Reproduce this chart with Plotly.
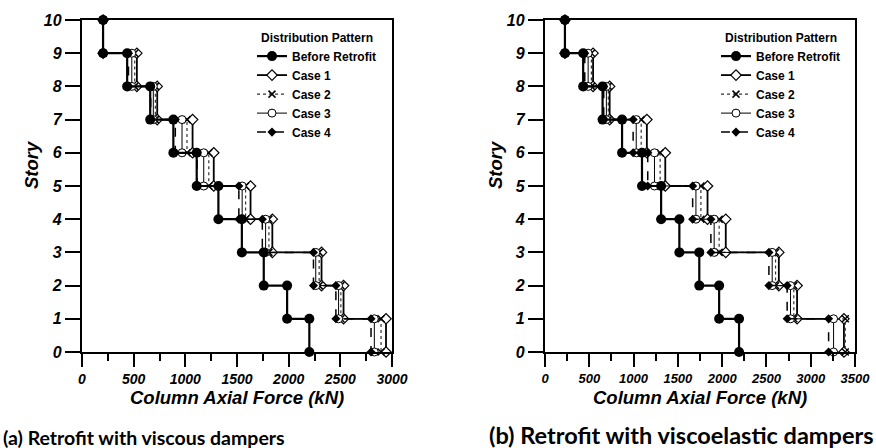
import plotly.graph_objects as go

# ---------------- data ----------------
# upper story of each column segment (segment 10-9, 9-8, ..., 1-0)
stories_top = [10, 9, 8, 7, 6, 5, 4, 3, 2, 1]
series_names = ["Before Retrofit", "Case 1", "Case 2", "Case 3", "Case 4"]

# (a) viscous dampers  - column axial force (kN) per segment, top to bottom
a_before = [204, 437, 660, 884, 1110, 1320, 1547, 1759, 1985, 2200]
a_case1 = [204, 531, 728, 1070, 1275, 1631, 1842, 2318, 2531, 2942]
a_case2 = [204, 510, 710, 1016, 1227, 1583, 1809, 2295, 2505, 2894]
a_case3 = [204, 482, 690, 968, 1178, 1550, 1777, 2262, 2483, 2829]
a_case4 = [204, 450, 665, 903, 1113, 1518, 1745, 2240, 2457, 2797]

# (b) viscoelastic dampers
b_before = [225, 431, 650, 870, 1095, 1311, 1517, 1742, 1966, 2191]
b_case1 = [225, 543, 730, 1150, 1358, 1835, 2041, 2640, 2846, 3375]
b_case2 = [225, 524, 715, 1086, 1300, 1760, 1966, 2603, 2809, 3390]
b_case3 = [225, 487, 693, 1030, 1236, 1704, 1910, 2565, 2772, 3258]
b_case4 = [225, 449, 663, 995, 1160, 1667, 1873, 2528, 2734, 3202]

x_ticks_a = [0, 500, 1000, 1500, 2000, 2500, 3000]
x_ticks_b = [0, 500, 1000, 1500, 2000, 2500, 3000, 3500]
y_ticks = [0, 1, 2, 3, 4, 5, 6, 7, 8, 9, 10]

x_title = "Column Axial Force (kN)"
y_title = "Story"
legend_title = "Distribution Pattern"
caption_a = "(a) Retrofit with viscous dampers"
caption_b = "(b) Retrofit with viscoelastic dampers"

# ---------------- styles ----------------
styles = {
    "Before Retrofit": dict(line=dict(color="black", width=2.2, dash="solid"),
                            marker=dict(symbol="circle", size=10, color="black")),
    "Case 1": dict(line=dict(color="black", width=1.8, dash="solid"),
                   marker=dict(symbol="diamond", size=8, color="white",
                               line=dict(color="black", width=1.2))),
    "Case 2": dict(line=dict(color="#333333", width=1.2, dash="dot"),
                   marker=dict(symbol="x-thin", size=7, color="black",
                               line=dict(color="black", width=1.5))),
    "Case 3": dict(line=dict(color="black", width=1, dash="solid"),
                   marker=dict(symbol="circle", size=8, color="white",
                               line=dict(color="black", width=1))),
    "Case 4": dict(line=dict(color="black", width=1.5, dash="dash"),
                   marker=dict(symbol="diamond", size=7, color="black")),
}


def step(vals):
    xs, ys = [], []
    for s, v in zip(stories_top, vals):
        xs += [v, v]
        ys += [s, s - 1]
    return xs, ys


fig = go.Figure()

panels = [
    ("x", "y", "legend", [a_before, a_case1, a_case2, a_case3, a_case4]),
    ("x2", "y2", "legend2", [b_before, b_case1, b_case2, b_case3, b_case4]),
]
for xa, ya, leg, data in panels:
    # draw cases first, "Before Retrofit" on top; legend order by rank
    order = [1, 2, 3, 4, 0]
    for i in order:
        name = series_names[i]
        xs, ys = step(data[i])
        fig.add_trace(go.Scatter(
            x=xs, y=ys, mode="lines+markers", name=name,
            xaxis=xa, yaxis=ya, legend=leg, legendrank=i + 1,
            cliponaxis=False, **styles[name]))

W, H = 876, 448
x1_dom = [82 / W, 392 / W]
x2_dom = [545 / W, 855 / W]
y_dom = [(H - 352) / H, (H - 20) / H]

tick_font_x_a = dict(family="Liberation Sans, Arial", size=14, color="black",
                     weight="bold", style="italic")
tick_font_x_b = dict(family="Liberation Sans, Arial", size=13, color="black",
                     weight="bold", style="italic")
tick_font_y = dict(family="Liberation Sans, Arial", size=16, color="black",
                   weight="bold", style="italic")

common_x = dict(showline=True, linecolor="black", linewidth=2.4, mirror=True,
                ticks="outside", ticklen=13, tickwidth=2, tickcolor="black",
                showgrid=False, zeroline=False, automargin=False,
                minor=dict(ticks="outside", ticklen=7, tickwidth=2,
                           tickcolor="black", dtick=250))
common_y = dict(showline=True, linecolor="black", linewidth=2.4, mirror=True,
                ticks="outside", ticklen=15, tickwidth=2, tickcolor="black",
                showgrid=False, zeroline=False, range=[0, 10], automargin=False,
                tickvals=y_ticks, tickfont=tick_font_y)

legend_common = dict(
    font=dict(family="Liberation Sans, Arial", size=12, color="black", weight="bold"),
    title=dict(text=legend_title, side="top center",
               font=dict(family="Liberation Sans, Arial", size=12, color="black",
                         weight="bold")),
    bgcolor="rgba(0,0,0,0)", borderwidth=0, tracegroupgap=0,
    xanchor="left", yanchor="top", itemwidth=30,
)

fig.update_layout(
    template="none",
    width=W, height=H, margin=dict(l=0, r=0, t=0, b=0, autoexpand=False),
    paper_bgcolor="white", plot_bgcolor="white",
    showlegend=True,
    xaxis=dict(domain=x1_dom, range=[0, 3000], tickvals=x_ticks_a,
               tickfont=tick_font_x_a, anchor="y", **common_x),
    yaxis=dict(domain=y_dom, anchor="x", **common_y),
    xaxis2=dict(domain=x2_dom, range=[0, 3500], tickvals=x_ticks_b,
                tickfont=tick_font_x_b, anchor="y2", **common_x),
    yaxis2=dict(domain=y_dom, anchor="x2", **common_y),
    legend=dict(x=252 / W, y=1 - 26 / H, **legend_common),
    legend2=dict(x=716 / W, y=1 - 26 / H, **legend_common),
)

title_font = dict(family="Liberation Sans, Arial", size=18.5, color="black",
                  weight="bold", style="italic")
cap_font = dict(family="Lato", size=19.5, color="black", weight="bold")

ann = [
    dict(text=x_title, x=(x1_dom[0] + x1_dom[1]) / 2, y=1 - 397 / H,
         font=title_font),
    dict(text=x_title, x=(x2_dom[0] + x2_dom[1]) / 2, y=1 - 397 / H,
         font=title_font),
    dict(text=y_title, x=31 / W, y=1 - 165 / H, textangle=-90, font=title_font),
    dict(text=y_title, x=495 / W, y=1 - 165 / H, textangle=-90, font=title_font),
    dict(text=caption_a, x=1 / W, y=1 - 437 / H, xanchor="left",
         font=cap_font),
    dict(text=caption_b, x=875 / W, y=1 - 435 / H, xanchor="right",
         font=dict(cap_font, size=23.5)),
]
for a in ann:
    a.setdefault("xanchor", "center")
    a.update(xref="paper", yref="paper", yanchor="middle", showarrow=False)
    fig.add_annotation(**a)

fig.write_html(
    "out.html",
    config={"responsive": False, "displayModeBar": False},
    post_script="document.body.style.margin='0px';document.body.style.overflow='hidden';",
)
